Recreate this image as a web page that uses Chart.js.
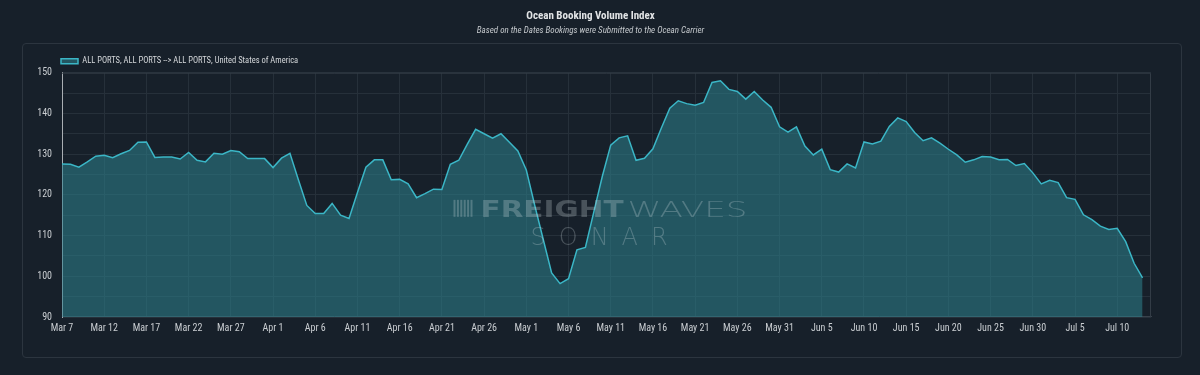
<!DOCTYPE html>
<html lang="en">
<head>
<meta charset="UTF-8">
<title>Ocean Booking Volume Index</title>
<style>
    html, body { margin: 0; padding: 0; background: #17202a; }
    .wrap { position: relative; width: 1200px; height: 375px; }
    .card { position: absolute; left: 22px; top: 43px; width: 1160px; height: 315px; border: 1px solid #2c353f; border-radius: 4px; box-sizing: border-box; }
    canvas { position: absolute; left: 0; top: 0; }
</style>
<script src="https://cdn.jsdelivr.net/npm/chart.js@4.4.0/dist/chart.umd.min.js"></script>
</head>
<body>
<div class="wrap">
    <div class="card"></div>
    <canvas id="myChart" width="1200" height="375"></canvas>
</div>
<script>
    // first day and month table for the daily categories (Mar 7 .. Jul 14)
    const monthNames = ['Jan', 'Feb', 'Mar', 'Apr', 'May', 'Jun', 'Jul'];
    const monthDays = [31, 28, 31, 30, 31, 30, 31];
    const firstMonth = 2;
    const firstDay = 7;
    const dayCount = 130;

    // index values, one per day (last day empty)
    const bookingIndex = [
        127.6, 127.5, 126.8, 128.1, 129.5, 129.7, 129.1, 130.1, 130.9, 132.9,
        133.0, 129.2, 129.3, 129.3, 128.8, 130.4, 128.5, 128.1, 130.2, 130.0,
        130.9, 130.6, 128.9, 128.9, 128.9, 126.7, 129.0, 130.2, 123.7, 117.4,
        115.4, 115.4, 117.9, 115.0, 114.2, 120.6, 126.8, 128.6, 128.6, 123.7,
        123.8, 122.7, 119.3, 120.3, 121.4, 121.3, 127.5, 128.5, 132.4, 136.1,
        135.0, 133.9, 135.0, 132.9, 130.8, 126.1, 117.4, 109.1, 100.8, 98.2,
        99.4, 106.5, 107.1, 115.8, 124.5, 132.2, 134.0, 134.5, 128.5, 129.0,
        131.3, 136.4, 141.3, 143.1, 142.4, 142.0, 142.7, 147.6, 148.0, 145.9,
        145.4, 143.5, 145.4, 143.3, 141.5, 136.7, 135.4, 136.7, 132.0, 129.8,
        131.2, 126.2, 125.6, 127.6, 126.6, 133.0, 132.5, 133.2, 136.8, 138.9,
        138.0, 135.3, 133.3, 134.0, 132.7, 131.2, 129.8, 128.0, 128.6, 129.4,
        129.3, 128.6, 128.7, 127.2, 127.7, 125.4, 122.7, 123.6, 123.0, 119.3,
        118.9, 115.1, 113.9, 112.3, 111.5, 111.8, 108.5, 103.2, 99.6, null
    ];

    const yTicks = [90, 100, 110, 120, 130, 140, 150];

    const dayLabels = [];
    let m = firstMonth, d = firstDay;
    for (let k = 0; k < dayCount; k++) {
        dayLabels.push(monthNames[m] + ' ' + d);
        d++;
        if (d > monthDays[m]) { d = 1; m++; }
    }

    const fontFamily = "'Roboto Condensed', 'Liberation Sans Narrow', 'DejaVu Sans Condensed', Roboto, sans-serif";
    const textColor = '#c9cdd1';
    const gridColor = '#26303a';

    // legend sits a bit closer to the plot than chart.js lays it out
    const legendNudge = {
        id: 'legendNudge',
        afterLayout(chart) {
            if (chart.legend) {
                chart.legend.top += 3;
                chart.legend.bottom += 3;
            }
        }
    };

    // plot frame (top / right edges)
    const frame = {
        id: 'frame',
        beforeDatasetsDraw(chart) {
            const { ctx, chartArea: a } = chart;
            ctx.save();
            ctx.strokeStyle = '#333c46';
            ctx.lineWidth = 1;
            ctx.beginPath();
            ctx.moveTo(a.left, a.top + 0.5);
            ctx.lineTo(a.right - 0.5, a.top + 0.5);
            ctx.lineTo(a.right - 0.5, a.bottom);
            ctx.stroke();
            ctx.restore();
        }
    };

    // FreightWaves SONAR watermark
    const watermark = {
        id: 'watermark',
        afterDatasetsDraw(chart) {
            const { ctx, chartArea: a } = chart;
            const cx = (a.left + a.right) / 2 - 6;
            const cy = (a.top + a.bottom) / 2;
            ctx.save();
            ctx.fillStyle = 'rgba(205, 215, 220, 0.28)';
            ctx.textBaseline = 'alphabetic';
            ctx.textAlign = 'left';

            // bars icon
            const ix = cx - 147, iy = cy + 22;
            for (let b = 0; b < 6; b++) {
                ctx.fillRect(ix + b * 3.4, iy - 17, 2, 17);
            }

            ctx.font = "900 23px 'DejaVu Sans', sans-serif";
            const w1 = ctx.measureText('FREIGHT').width;
            ctx.save();
            ctx.translate(cx - 120, cy + 22);
            ctx.scale(143 / w1, 1);
            ctx.fillText('FREIGHT', 0, 0);
            ctx.restore();

            ctx.font = "200 22px 'DejaVu Sans', sans-serif";
            const w2 = ctx.measureText('WAVES').width;
            ctx.save();
            ctx.translate(cx + 27, cy + 22);
            ctx.scale(120 / w2, 1);
            ctx.fillText('WAVES', 0, 0);
            ctx.restore();

            ctx.font = "200 24px 'DejaVu Sans', sans-serif";
            ctx.letterSpacing = '13px';
            ctx.fillText('SONAR', cx - 70, cy + 50);
            ctx.restore();
        }
    };

    const ctx = document.getElementById('myChart');

    new Chart(ctx, {
        type: 'line',
        data: {
            labels: dayLabels,
            datasets: [{
                label: 'ALL PORTS, ALL PORTS --> ALL PORTS, United States of America',
                data: bookingIndex,
                borderColor: '#3bb6c6',
                backgroundColor: 'rgba(44, 128, 140, 0.56)',
                borderWidth: 1.5,
                pointRadius: 0,
                tension: 0,
                fill: 'start',
                spanGaps: false
            }]
        },
        options: {
            responsive: false,
            animation: false,
            layout: {
                padding: { left: 30, right: 49, top: 0, bottom: 40 }
            },
            plugins: {
                title: {
                    display: true,
                    text: 'Ocean Booking Volume Index',
                    color: '#e2e4e6',
                    font: { family: fontFamily, size: 11, weight: 'bold' },
                    padding: { top: 10, bottom: 0 }
                },
                subtitle: {
                    display: true,
                    text: 'Based on the Dates Bookings were Submitted to the Ocean Carrier',
                    color: '#c4c8cc',
                    font: { family: fontFamily, size: 9, style: 'italic' },
                    padding: { top: 2, bottom: -13 }
                },
                legend: {
                    display: true,
                    position: 'top',
                    align: 'start',
                    labels: {
                        boxWidth: 17,
                        boxHeight: 5,
                        padding: 31,
                        color: '#d4d7da',
                        font: { family: fontFamily, size: 8.5 }
                    }
                },
                tooltip: { enabled: false }
            },
            scales: {
                x: {
                    type: 'category',
                    offset: false,
                    grid: {
                        drawTicks: false,
                        color: c => (c.index % 5 === 0 && c.index < dayCount - 1) ? gridColor : 'rgba(0,0,0,0)'
                    },
                    border: { color: '#39424c', width: 1 },
                    ticks: {
                        autoSkip: false,
                        maxRotation: 0,
                        padding: 6,
                        color: textColor,
                        font: { family: fontFamily, size: 10 },
                        callback: function (val, idx) {
                            return idx % 5 === 0 ? this.getLabelForValue(val) : '';
                        }
                    },
                    afterFit: s => { s.height = 18; }
                },
                y: {
                    min: 90,
                    max: 150,
                    grid: { drawTicks: false, color: gridColor },
                    border: { color: '#a9aeb3', width: 1 },
                    ticks: {
                        stepSize: 5,
                        padding: 10,
                        color: textColor,
                        font: { family: fontFamily, size: 10 },
                        callback: v => yTicks.includes(v) ? v : ''
                    },
                    afterFit: s => { s.width = 32; }
                }
            }
        },
        plugins: [legendNudge, frame, watermark]
    });
</script>
</body>
</html>
